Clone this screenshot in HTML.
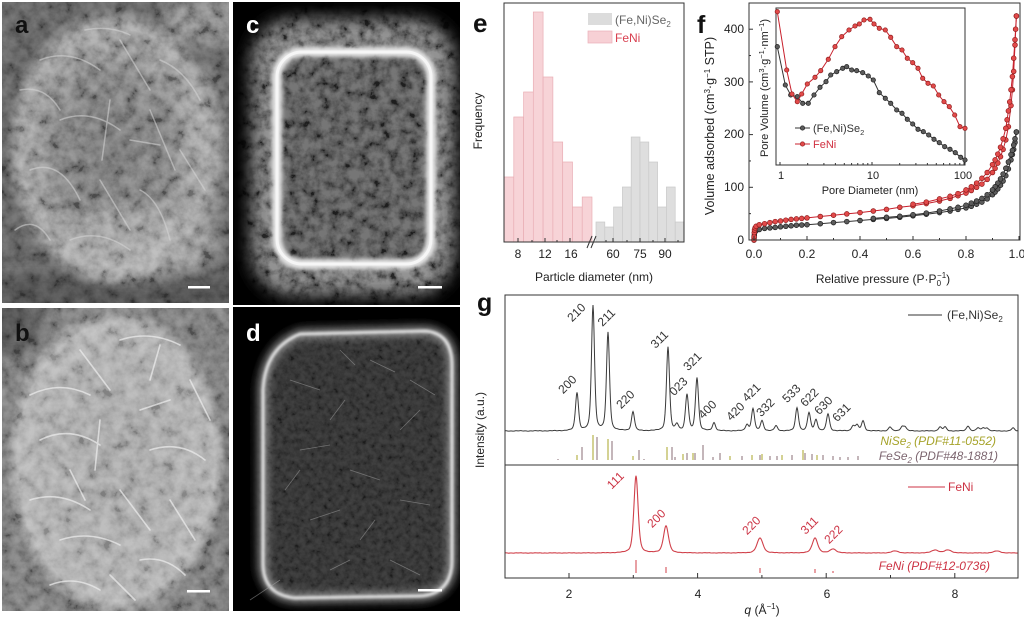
<!DOCTYPE html>
<html><head><meta charset="utf-8"><style>
html,body{margin:0;padding:0;background:#fff;}
svg{display:block;font-family:"Liberation Sans",Arial,sans-serif;}
</style></head><body>
<svg id="fig" width="1024" height="620" viewBox="0 0 1024 620" xmlns="http://www.w3.org/2000/svg">
<defs>
<clipPath id="ca"><rect x="2" y="2" width="227" height="301"/></clipPath>
<clipPath id="cb"><rect x="2" y="308" width="227" height="303"/></clipPath>
<clipPath id="cc"><rect x="233" y="2" width="227" height="303"/></clipPath>
<clipPath id="cd"><rect x="233" y="307" width="227" height="304"/></clipPath>
<clipPath id="ce"><rect x="504" y="3" width="180" height="239"/></clipPath>
<filter id="nzA" filterUnits="userSpaceOnUse" x="0" y="0" width="470" height="620">
 <feTurbulence type="fractalNoise" baseFrequency="0.08" numOctaves="4" seed="7"/>
 <feColorMatrix type="matrix" values="1 0 0 0 0 1 0 0 0 0 1 0 0 0 0 0 0 0 0 1"/>
 <feComponentTransfer><feFuncR type="linear" slope="1.8" intercept="-0.4"/><feFuncG type="linear" slope="1.8" intercept="-0.4"/><feFuncB type="linear" slope="1.8" intercept="-0.4"/></feComponentTransfer>
</filter>
<filter id="nzC" filterUnits="userSpaceOnUse" x="0" y="0" width="470" height="620">
 <feTurbulence type="fractalNoise" baseFrequency="0.1" numOctaves="4" seed="12"/>
 <feColorMatrix type="matrix" values="1 0 0 0 0 1 0 0 0 0 1 0 0 0 0 0 0 0 0 1"/>
 <feComponentTransfer><feFuncR type="linear" slope="2.0" intercept="-0.45"/><feFuncG type="linear" slope="2.0" intercept="-0.45"/><feFuncB type="linear" slope="2.0" intercept="-0.45"/></feComponentTransfer>
</filter>
<filter id="nzD" filterUnits="userSpaceOnUse" x="0" y="0" width="470" height="620">
 <feTurbulence type="fractalNoise" baseFrequency="0.18" numOctaves="3" seed="21"/>
 <feColorMatrix type="matrix" values="1 0 0 0 0 1 0 0 0 0 1 0 0 0 0 0 0 0 0 1"/>
 <feComponentTransfer><feFuncR type="linear" slope="1.8" intercept="-0.35"/><feFuncG type="linear" slope="1.8" intercept="-0.35"/><feFuncB type="linear" slope="1.8" intercept="-0.35"/></feComponentTransfer>
</filter>
<filter id="bl1" x="-20%" y="-20%" width="140%" height="140%"><feGaussianBlur stdDeviation="1.2"/></filter>
<filter id="bl2" x="-20%" y="-20%" width="140%" height="140%"><feGaussianBlur stdDeviation="2"/></filter>
<filter id="bl4" x="-30%" y="-30%" width="160%" height="160%"><feGaussianBlur stdDeviation="4"/></filter>
<filter id="bl8" x="-40%" y="-40%" width="180%" height="180%"><feGaussianBlur stdDeviation="8"/></filter>
<radialGradient id="ga" cx="0.5" cy="0.5" r="0.5">
 <stop offset="0" stop-color="#6c6c6c"/><stop offset="0.55" stop-color="#767676"/><stop offset="0.85" stop-color="#949494"/><stop offset="1" stop-color="#8c8c8c" stop-opacity="0"/>
</radialGradient>
<radialGradient id="gb" cx="0.5" cy="0.5" r="0.5">
 <stop offset="0" stop-color="#9a9a9a"/><stop offset="0.7" stop-color="#a4a4a4"/><stop offset="0.9" stop-color="#aaaaaa"/><stop offset="1" stop-color="#a0a0a0" stop-opacity="0"/>
</radialGradient>
</defs>
<rect width="1024" height="620" fill="#fff"/>

<!-- Panel a -->
<g clip-path="url(#ca)">
 <rect x="2" y="2" width="227" height="301" fill="#5a5a5a"/>
 <rect x="165" y="0" width="80" height="45" fill="#7c7c7c" filter="url(#bl8)"/>
 <rect x="0" y="275" width="240" height="40" fill="#4a4a4a" filter="url(#bl8)"/>
 <ellipse cx="114" cy="148" rx="110" ry="142" fill="url(#ga)"/>
 <ellipse cx="140" cy="245" rx="80" ry="35" fill="#acacac" opacity=".5" filter="url(#bl8)"/>
 <ellipse cx="205" cy="150" rx="22" ry="85" fill="#a0a0a0" opacity=".4" filter="url(#bl8)"/>
 <rect x="2" y="2" width="227" height="301" filter="url(#nzA)" opacity=".35" style="mix-blend-mode:overlay"/>
 <g fill="none" stroke="#d6d6d6" stroke-width="1.5" opacity=".55" stroke-linecap="round">
  <path d="M40 60 Q70 48 100 70"/><path d="M120 40 L150 90"/><path d="M60 120 Q90 108 120 130"/>
  <path d="M150 110 L175 170"/><path d="M30 170 Q60 158 80 200"/><path d="M100 180 L130 230"/>
  <path d="M160 60 Q185 70 200 100"/><path d="M70 240 Q100 228 130 250"/><path d="M180 150 L205 190"/>
  <path d="M20 90 Q45 85 60 110"/><path d="M110 100 L102 160"/><path d="M140 190 Q160 200 170 240"/>
  <path d="M15 230 Q35 215 50 240"/><path d="M85 30 Q110 25 130 35"/><path d="M130 140 L160 145"/>
 </g>
 <rect x="188" y="286" width="22" height="2.5" fill="#fff"/>
 <text x="15" y="33" font-size="24" font-weight="bold" fill="#111">a</text>
</g>

<!-- Panel b -->
<g clip-path="url(#cb)">
 <rect x="2" y="308" width="227" height="303" fill="#727272"/>
 <circle cx="10" cy="320" r="35" fill="#505050" filter="url(#bl8)"/>
 <rect x="214" y="420" width="30" height="200" fill="#6e6e6e" filter="url(#bl4)"/>
 <ellipse cx="116" cy="462" rx="110" ry="154" fill="url(#gb)"/>
 <rect x="2" y="308" width="227" height="303" filter="url(#nzA)" opacity=".32" style="mix-blend-mode:overlay"/>
 <g fill="none" stroke="#eeeeee" stroke-width="1.6" opacity=".7" stroke-linecap="round">
  <path d="M30 395 Q60 380 90 395"/><path d="M80 350 L110 390"/><path d="M120 340 Q150 330 180 345"/>
  <path d="M40 440 Q70 425 100 445"/><path d="M140 410 L170 400"/><path d="M100 420 L95 470"/>
  <path d="M150 450 Q180 440 205 460"/><path d="M30 500 Q60 490 90 510"/><path d="M120 490 L150 530"/>
  <path d="M60 540 Q90 530 120 545"/><path d="M170 500 L195 540"/><path d="M140 560 Q165 555 185 575"/>
  <path d="M50 585 Q75 575 100 590"/><path d="M190 380 L210 420"/><path d="M70 470 L85 500"/>
  <path d="M110 575 L135 600"/><path d="M160 345 L150 380"/>
 </g>
 <rect x="187" y="590" width="23" height="2.5" fill="#fff"/>
 <text x="15" y="341" font-size="24" font-weight="bold" fill="#111">b</text>
</g>

<!-- Panel c -->
<g clip-path="url(#cc)">
 <rect x="233" y="2" width="227" height="303" fill="#000"/>
 <rect x="250" y="18" width="206" height="278" rx="45" fill="#5c5c5c" filter="url(#bl8)"/>
 <rect x="277" y="52" width="154" height="212" rx="25" fill="#4a4a4a"/>
 <rect x="233" y="2" width="227" height="303" filter="url(#nzC)" opacity=".6" style="mix-blend-mode:overlay"/>
 <rect x="277" y="52" width="154" height="212" rx="25" fill="none" stroke="#e8e8e8" stroke-width="10" filter="url(#bl2)"/>
 <rect x="277" y="52" width="154" height="212" rx="25" fill="none" stroke="#fafafa" stroke-width="3" opacity=".8"/>
 <rect x="418" y="286" width="24" height="2.5" fill="#fff"/>
 <text x="246" y="33" font-size="24" font-weight="bold" fill="#fff">c</text>
</g>

<!-- Panel d -->
<g clip-path="url(#cd)">
 <rect x="233" y="307" width="227" height="304" fill="#000"/>
 <path d="M300 334 L425 331 Q452 333 452 365 L452 560 Q452 594 420 596 L295 598 Q264 595 263 565 L263 390 Q265 348 300 334 Z" fill="#3a3a3a" filter="url(#bl8)"/>
 <path d="M300 334 L425 331 Q452 333 452 365 L452 560 Q452 594 420 596 L295 598 Q264 595 263 565 L263 390 Q265 348 300 334 Z" fill="#2e2e2e"/>
 <rect x="233" y="307" width="227" height="304" filter="url(#nzD)" opacity=".4" style="mix-blend-mode:overlay"/>
 <path d="M300 334 L425 331 Q452 333 452 365 L452 560 Q452 594 420 596 L295 598 Q264 595 263 565 L263 390 Q265 348 300 334 Z" fill="none" stroke="#bdbdbd" stroke-width="10" opacity=".6" filter="url(#bl4)"/>
 <path d="M300 334 L425 331 Q452 333 452 365 L452 560 Q452 594 420 596 L295 598 Q264 595 263 565 L263 390 Q265 348 300 334 Z" fill="none" stroke="#e6e6e6" stroke-width="3" filter="url(#bl1)"/>
 <path d="M266 400 L266 570" stroke="#d8d8d8" stroke-width="8" opacity=".5" filter="url(#bl2)"/>
 <g stroke="#aaa" stroke-width=".8" opacity=".5">
  <path d="M290 380 L320 390"/><path d="M330 420 L345 400"/><path d="M370 360 L395 372"/><path d="M300 450 L330 445"/>
  <path d="M350 470 L380 480"/><path d="M400 430 L420 410"/><path d="M310 520 L340 510"/><path d="M360 540 L375 520"/>
  <path d="M400 500 L430 505"/><path d="M330 570 L350 560"/><path d="M390 560 L420 575"/><path d="M285 490 L300 470"/>
  <path d="M410 380 L435 395"/><path d="M340 350 L355 365"/><path d="M280 580 L250 600"/>
 </g>
 <rect x="418" y="589" width="24" height="2.5" fill="#fff"/>
 <text x="246" y="341" font-size="24" font-weight="bold" fill="#fff">d</text>
</g>

<!-- Panel e -->
<text x="473" y="32" font-size="26" font-weight="bold" fill="#111">e</text>
<g clip-path="url(#ce)">
 <g fill="#f7d3d7" stroke="#e9aeb5" stroke-width=".7">
  <rect x="504.0" y="177" width="9.78" height="65"/>
  <rect x="513.8" y="117" width="9.78" height="125"/>
  <rect x="523.6" y="92" width="9.78" height="150"/>
  <rect x="533.3" y="12" width="9.78" height="230"/>
  <rect x="543.1" y="77" width="9.78" height="165"/>
  <rect x="552.9" y="142" width="9.78" height="100"/>
  <rect x="562.7" y="162" width="9.78" height="80"/>
  <rect x="572.5" y="207" width="9.78" height="35"/>
  <rect x="582.2" y="197" width="9.78" height="45"/>
 </g>
 <g fill="#dedede" stroke="#c9c9c9" stroke-width=".7">
  <rect x="596.0" y="222" width="8.8" height="20"/>
  <rect x="604.8" y="227" width="8.8" height="15"/>
  <rect x="613.6" y="207" width="8.8" height="35"/>
  <rect x="622.4" y="187" width="8.8" height="55"/>
  <rect x="631.2" y="137" width="8.8" height="105"/>
  <rect x="640.0" y="142" width="8.8" height="100"/>
  <rect x="648.8" y="162" width="8.8" height="80"/>
  <rect x="657.6" y="207" width="8.8" height="35"/>
  <rect x="666.4" y="187" width="8.8" height="55"/>
  <rect x="675.2" y="222" width="8.8" height="20"/>
 </g>
</g>
<rect x="504" y="3" width="180" height="239" fill="none" stroke="#333" stroke-width="1"/>
<rect x="588" y="13" width="24" height="12" fill="#dcdcdc"/>
<text x="615" y="24" font-size="12" fill="#666">(Fe,Ni)Se<tspan font-size="8" dy="3">2</tspan></text>
<rect x="588" y="31" width="24" height="12" fill="#f7d0d5" stroke="#eab0b8" stroke-width=".7"/>
<text x="615" y="42" font-size="12" fill="#d84050">FeNi</text>
<path d="M587 248 L592 236 M591 248 L596 236" stroke="#333" stroke-width="1" fill="none"/>
<g font-size="12" fill="#222" text-anchor="middle">
 <text x="518" y="258">8</text><text x="545" y="258">12</text><text x="571" y="258">16</text>
 <text x="613" y="258">60</text><text x="640" y="258">75</text><text x="665" y="258">90</text>
 <text x="594" y="281">Particle diameter (nm)</text>
 <text transform="translate(482,121) rotate(-90)">Frequency</text>
</g>

<!-- Panel f -->
<text x="697" y="33" font-size="25" font-weight="bold" fill="#111">f</text>
<g id="fmain"></g>
<rect x="749" y="3" width="271" height="237" fill="none" stroke="#333" stroke-width="1"/>
<g font-size="12" fill="#222">
 <g text-anchor="end">
  <text x="744" y="244">0</text><text x="744" y="191">100</text><text x="744" y="138">200</text><text x="744" y="86">300</text><text x="744" y="33">400</text>
 </g>
 <g text-anchor="middle">
  <text x="754" y="258">0.0</text><text x="807" y="258">0.2</text><text x="860" y="258">0.4</text><text x="913" y="258">0.6</text><text x="966" y="258">0.8</text><text x="1017" y="258">1.0</text>
  <text x="883" y="283">Relative pressure (P·P<tspan font-size="8" dy="3">0</tspan><tspan font-size="8" dx="-4" dy="-8">−1</tspan><tspan dy="5">)</tspan></text>
  <text transform="translate(714,126) rotate(-90)" font-size="12.5">Volume adsorbed (cm<tspan font-size="8" dy="-4">3</tspan><tspan dy="4">·g</tspan><tspan font-size="8" dy="-4">−1</tspan><tspan dy="4"> STP)</tspan></text>
 </g>
</g>
<rect x="776" y="8" width="189" height="157" fill="#fff" stroke="#333" stroke-width="1"/>
<g id="finset"></g>
<g font-size="11" fill="#222" text-anchor="middle">
 <text x="781" y="179">1</text><text x="873" y="179">10</text><text x="963" y="179">100</text>
 <text x="870" y="194">Pore Diameter (nm)</text>
 <text transform="translate(768,88) rotate(-90)">Pore Volume (cm<tspan font-size="7.5" dy="-4">3</tspan><tspan dy="4">·g</tspan><tspan font-size="7.5" dy="-4">−1</tspan><tspan dy="4">·nm</tspan><tspan font-size="7.5" dy="-4">−1</tspan><tspan dy="4">)</tspan></text>
</g>
<text x="813" y="132" font-size="11" fill="#333">(Fe,Ni)Se<tspan font-size="7.5" dy="3">2</tspan></text>
<text x="813" y="148" font-size="11" fill="#d03040">FeNi</text>

<!-- Panel g -->
<text x="477" y="311" font-size="25" font-weight="bold" fill="#111">g</text>
<rect x="505" y="295" width="513" height="283" fill="none" stroke="#333" stroke-width="1"/>
<line x1="505" y1="465" x2="1018" y2="465" stroke="#333" stroke-width="1"/>
<g id="gplot"></g>
<text transform="translate(484,430) rotate(-90)" font-size="12" fill="#222" text-anchor="middle">Intensity (a.u.)</text>
<g font-size="12" fill="#333" text-anchor="middle" dominant-baseline="middle">
 <text transform="translate(568,385) rotate(-45)">200</text>
 <text transform="translate(577,313) rotate(-45)">210</text>
 <text transform="translate(607,318) rotate(-45)">211</text>
 <text transform="translate(626,400) rotate(-45)">220</text>
 <text transform="translate(660,340) rotate(-45)">311</text>
 <text transform="translate(679,387) rotate(-45)">023</text>
 <text transform="translate(693,362) rotate(-45)">321</text>
 <text transform="translate(708,410) rotate(-45)">400</text>
 <text transform="translate(736,412) rotate(-45)">420</text>
 <text transform="translate(752,393) rotate(-45)">421</text>
 <text transform="translate(766,408) rotate(-45)">332</text>
 <text transform="translate(792,394) rotate(-45)">533</text>
 <text transform="translate(810,398) rotate(-45)">622</text>
 <text transform="translate(824,406) rotate(-45)">630</text>
 <text transform="translate(842,413) rotate(-45)">631</text>
</g>
<g font-size="12" fill="#cc3344" text-anchor="middle" dominant-baseline="middle">
 <text transform="translate(616,481) rotate(-45)">111</text>
 <text transform="translate(657,519) rotate(-45)">200</text>
 <text transform="translate(752,526) rotate(-45)">220</text>
 <text transform="translate(810,526) rotate(-45)">311</text>
 <text transform="translate(834,535) rotate(-45)">222</text>
</g>
<line x1="908" y1="315" x2="942" y2="315" stroke="#333" stroke-width="1"/>
<text x="947" y="319" font-size="12" fill="#333">(Fe,Ni)Se<tspan font-size="8" dy="3">2</tspan></text>
<text x="996" y="445" font-size="12" font-style="italic" fill="#a6a32a" text-anchor="end">NiSe<tspan font-size="8" dy="3">2</tspan><tspan dy="-3"> (PDF#11-0552)</tspan></text>
<text x="998" y="460" font-size="12" font-style="italic" fill="#7d6670" text-anchor="end">FeSe<tspan font-size="8" dy="3">2</tspan><tspan dy="-3"> (PDF#48-1881)</tspan></text>
<line x1="908" y1="487" x2="945" y2="487" stroke="#cc3344" stroke-width="1"/>
<text x="948" y="491" font-size="12" fill="#cc3344">FeNi</text>
<text x="990" y="570" font-size="12" font-style="italic" fill="#cc3344" text-anchor="end">FeNi (PDF#12-0736)</text>
<g font-size="12" fill="#222" text-anchor="middle">
 <text x="569" y="598">2</text><text x="698" y="598">4</text><text x="827" y="598">6</text><text x="955" y="598">8</text>
 <text x="762" y="614"><tspan font-style="italic">q</tspan> (Å<tspan font-size="8" dy="-5">−1</tspan><tspan dy="5">)</tspan></text>
</g>
</svg>
<script>
(function(){
var NS="http://www.w3.org/2000/svg";
function mk(par,t,a){var e=document.createElementNS(NS,t);for(var k in a)e.setAttribute(k,a[k]);par.appendChild(e);return e;}
function poly(par,arr,c,w){mk(par,'polyline',{points:arr.map(function(p){return p[0].toFixed(1)+','+p[1].toFixed(1);}).join(' '),fill:'none',stroke:c,'stroke-width':w});}
function dots(par,arr,f,s,r){arr.forEach(function(p){mk(par,'circle',{cx:p[0].toFixed(1),cy:p[1].toFixed(1),r:r,fill:f,stroke:s,'stroke-width':0.7});});}
function ln(par,x1,y1,x2,y2,c){mk(par,'line',{x1:x1,y1:y1,x2:x2,y2:y2,stroke:c||'#333','stroke-width':1});}

var svg=document.getElementById('fig');
var eg=mk(svg,'g',{});
[518,545,570,613,640,665].forEach(function(x){ln(eg,x,242,x,238);});
[532,557,606,627,653,678].forEach(function(x){ln(eg,x,242,x,240);});

var fm=document.getElementById('fmain');
function fx(p){return 754+265*p;} function fy(v){return 240-0.527*v;}
function cv(a){return a.map(function(d){return [fx(d[0]),fy(d[1])];});}
var bA=[[0,0],[0.0005,4],[0.001,9],[0.002,13],[0.004,16],[0.008,18],[0.02,20],[0.04,22],[0.06,23],[0.08,24],[0.1,25],[0.12,26],[0.14,27],[0.16,28],[0.18,28.5],[0.2,29],[0.25,31],[0.3,33],[0.35,35],[0.4,37],[0.45,39],[0.5,41],[0.55,43],[0.6,46],[0.65,49],[0.7,52],[0.74,55],[0.77,58],[0.8,61],[0.82,64],[0.84,68],[0.86,72],[0.88,78],[0.9,86],[0.91,91],[0.92,97],[0.93,104],[0.94,112],[0.95,122],[0.96,135],[0.97,152],[0.975,162],[0.98,172],[0.985,185],[0.99,205]];
var bD=[[0.99,205],[0.985,192],[0.98,180],[0.975,170],[0.97,162],[0.96,148],[0.95,136],[0.94,125],[0.93,116],[0.92,108],[0.91,101],[0.9,95],[0.88,86],[0.86,79],[0.84,74],[0.82,70],[0.8,66],[0.77,62],[0.74,59],[0.7,55],[0.65,51],[0.6,48],[0.55,45],[0.5,43],[0.45,41]];
var rA=[[0,0],[0.0005,6],[0.001,14],[0.002,19],[0.004,23],[0.008,26],[0.02,29],[0.04,31],[0.06,33],[0.08,35],[0.1,36],[0.12,37.5],[0.14,39],[0.16,40],[0.18,41],[0.2,42],[0.25,44.5],[0.3,47],[0.35,49.5],[0.4,52],[0.45,55],[0.5,58],[0.55,62],[0.6,65],[0.65,69],[0.7,74],[0.74,79],[0.77,84],[0.8,89],[0.82,94],[0.84,100],[0.86,106],[0.88,115],[0.9,128],[0.91,136],[0.92,146],[0.93,158],[0.94,172],[0.95,190],[0.96,215],[0.97,255],[0.975,285],[0.98,320],[0.985,370],[0.99,425]];
var rD=[[0.99,425],[0.987,400],[0.985,380],[0.98,345],[0.975,310],[0.97,285],[0.965,262],[0.96,245],[0.955,228],[0.95,212],[0.94,192],[0.93,176],[0.92,163],[0.91,152],[0.9,143],[0.88,128],[0.86,117],[0.84,108],[0.82,101],[0.8,95],[0.77,88],[0.74,83],[0.7,78],[0.65,72],[0.6,68]];
poly(fm,cv(bA),'#333',1);poly(fm,cv(bD),'#333',1);
dots(fm,cv(bA),'#5c5c5c','#1e1e1e',2.4);dots(fm,cv(bD),'#5c5c5c','#1e1e1e',2.4);
poly(fm,cv(rA),'#c8202c',1);poly(fm,cv(rD),'#c8202c',1);
dots(fm,cv(rA),'#e24a4a','#8f1d1d',2.4);dots(fm,cv(rD),'#e24a4a','#8f1d1d',2.4);
for(var i=0;i<=5;i++){var x=fx(i*0.2);ln(fm,x,240,x,236);}
for(i=0;i<5;i++){x=fx(i*0.2+0.1);ln(fm,x,240,x,238);}
for(i=0;i<=4;i++){var y=fy(i*100);ln(fm,749,y,753,y);}
for(i=0;i<4;i++){y=fy(i*100+50);ln(fm,749,y,751,y);}

var fi=document.getElementById('finset');
function iz(a){return a.map(function(p){return [700+p[0]/3,p[1]/3];});}
var rI=iz([[232,35],[260,210],[276,282],[292,305],[305,282],[322,252],[345,232],[362,212],[385,178],[405,140],[425,110],[447,90],[465,78],[478,72],[492,60],[510,58],[522,72],[538,85],[556,90],[572,112],[590,140],[606,150],[622,175],[638,188],[654,205],[668,235],[684,250],[700,258],[716,285],[732,305],[748,320],[764,345],[780,380],[795,385]]);
var bI=iz([[232,140],[256,255],[272,285],[292,290],[308,310],[325,310],[342,285],[360,262],[378,245],[392,225],[410,215],[428,205],[440,200],[455,210],[470,212],[488,218],[505,228],[520,240],[538,278],[556,295],[572,310],[590,330],[606,340],[622,358],[638,372],[654,388],[670,395],[686,405],[702,418],[718,428],[734,440],[750,448],[766,458],[782,472],[795,480]]);
poly(fi,bI,'#333',1);dots(fi,bI,'#5c5c5c','#1e1e1e',2.2);
poly(fi,rI,'#c8202c',1);dots(fi,rI,'#e24a4a','#8f1d1d',2.2);
function ix(d){return 780+92*Math.log10(d);}
[1,10,100].forEach(function(d){ln(fi,ix(d),165,ix(d),162);});
[2,3,4,5,6,7,8,9,20,30,40,50,60,70,80,90].forEach(function(d){ln(fi,ix(d),165,ix(d),163);});
ln(fi,795,128,810,128,'#333');dots(fi,[[802.5,128]],'#5c5c5c','#1e1e1e',2.2);
ln(fi,795,144,810,144,'#c8202c');dots(fi,[[802.5,144]],'#e24a4a','#8f1d1d',2.2);

var gp=document.getElementById('gplot');
function prof(peaks,base,w0,x0,x1,amp){var d='';for(var x=x0;x<=x1;x+=0.5){var y=base;for(var j=0;j<peaks.length;j++){var p=peaks[j],w=p[2]||w0,t=(x-p[0])/w,h=base-p[1];y-=h*(0.55*Math.exp(-0.693*t*t)+0.45/(1+t*t));}y+=amp*(Math.sin(x*1.3)*0.5+Math.sin(x*0.37+1)*0.5);d+=(d?'L':'M')+x.toFixed(1)+' '+y.toFixed(2);}return d;}
var top=[[577,393],[593,306],[608,333],[633,412],[668,347],[677,425],[687,395],[697,378],[714,423],[747,425],[753,409],[762,421],[776,426],[797,408],[809,413],[816,420],[828,414],[853,426],[857,425],[863,421],[890,427],[902,427],[905,427],[940,427],[945,427],[968,426],[978,428],[983,428],[987,428],[1013,428]];
mk(gp,'path',{d:prof(top,431,1.8,505.5,1017.5,0.3),fill:'none',stroke:'#3a3a3a','stroke-width':1});
var bot=[[636,476,2.5],[666,526,3],[760,538,3.5],[815,538,3.2],[833,549,3.5],[895,551,4],[935,550,4],[948,550,4],[997,551,4]];
mk(gp,'path',{d:prof(bot,553,3,505.5,1017.5,0.2),fill:'none',stroke:'#d0404a','stroke-width':1.1});
var ol='#a8a42a',br='#8a6d74';
var refs=[[577,455,ol],[593,435,ol],[608,439,ol],[633,456,ol],[667,447,ol],[683,454,ol],[693,453,ol],
[582,447,br],[597,437,br],[612,441,br],[639,450,br],[672,447,br],[675,457,br],[687,453,br],[695,453,br],[703,445,br],[713,457,br],[720,453,br],
[558,459,br],[644,459,br],[730,456,ol],[742,456,br],[752,455,ol],[760,455,br],[762,454,ol],[770,456,br],[777,456,br],[782,455,ol],[792,455,br],[803,450,ol],[805,453,br],[812,454,br],[817,455,ol],[823,455,br],[833,456,br],[840,457,br],[848,457,br],[858,456,br]];
refs.forEach(function(r){ln(gp,r[0],460,r[0],r[1],r[2]);});
[[636,560],[666,567],[760,568],[815,569],[833,571]].forEach(function(r){ln(gp,r[0],573,r[0],r[1],'#d0404a');});
function gq(q){return 569+(q-2)*64.3;}
[2,4,6,8].forEach(function(q){ln(gp,gq(q),578,gq(q),573);});
[3,5,7].forEach(function(q){ln(gp,gq(q),578,gq(q),575);});
})();
</script>
</body></html>
